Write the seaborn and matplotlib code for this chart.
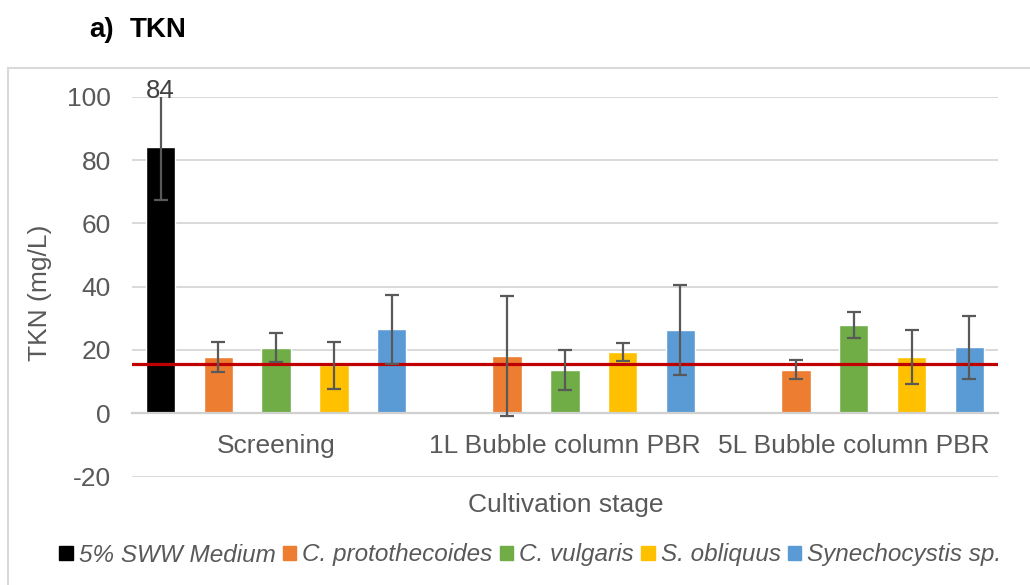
import matplotlib
matplotlib.use("Agg")
import matplotlib.pyplot as plt
import seaborn as sns
import pandas as pd
from matplotlib.patches import Rectangle

# Cultivation stages and strains
stages = ["Screening", "1L Bubble column PBR", "5L Bubble column PBR"]
strains = ["5% SWW Medium", "C. protothecoides", "C. vulgaris", "S. obliquus", "Synechocystis sp."]
colors = ["#000000", "#ED7D31", "#70AD47", "#FFC000", "#5B9BD5"]

# Mean TKN (mg/L) per stage; None = not measured
tkn_medium = [84.0, None, None]
tkn_protothecoides = [17.8, 18.0, 13.8]
tkn_vulgaris = [20.7, 13.7, 27.8]
tkn_obliquus = [15.1, 19.4, 17.8]
tkn_synechocystis = [26.5, 26.3, 20.8]

# Standard deviations
sd_medium = [16.5, None, None]
sd_protothecoides = [4.7, 19.0, 2.9]
sd_vulgaris = [4.6, 6.3, 4.1]
sd_obliquus = [7.3, 2.8, 8.4]
sd_synechocystis = [10.9, 14.1, 10.0]

# Discharge limit line
tkn_limit = 15.5

means = [tkn_medium, tkn_protothecoides, tkn_vulgaris, tkn_obliquus, tkn_synechocystis]
sds = [sd_medium, sd_protothecoides, sd_vulgaris, sd_obliquus, sd_synechocystis]

rows = []
for strain, mvals, svals in zip(strains, means, sds):
    for stage, m, s in zip(stages, mvals, svals):
        if m is not None:
            rows.append({"stage": stage, "strain": strain, "tkn": m, "sd": s})
df = pd.DataFrame(rows)

sns.set_theme(style="white")
plt.rcParams["font.family"] = ["Liberation Sans", "DejaVu Sans"]
plt.rcParams["axes.unicode_minus"] = False

grey = "#595959"
fig = plt.figure(figsize=(10.30, 5.85), dpi=100)
ax = fig.add_axes([0.1279, 0.1853, 0.8412, 0.6494])

sns.barplot(data=df, x="stage", y="tkn", hue="strain", order=stages,
            hue_order=strains, palette=colors, errorbar=None, width=1.0,
            gap=0.49, saturation=1, legend=False, ax=ax, zorder=2)

# Error bars placed on the drawn bars
for strain, container in zip(strains, ax.containers):
    sub = df[df["strain"] == strain].set_index("stage")
    for patch in container.patches:
        cx = patch.get_x() + patch.get_width() / 2
        stage = stages[int(round(cx))]
        h = sub.loc[stage, "tkn"]
        e = sub.loc[stage, "sd"]
        ax.errorbar(cx, h, yerr=e, fmt="none", ecolor=grey, elinewidth=1.6,
                    capsize=5, capthick=1.6, zorder=5)
        if strain == strains[0]:
            ax.text(cx, 101.8, f"{h:.0f}", ha="center", va="center",
                    fontsize=18.5, color="#404040", clip_on=False, zorder=6)

ax.axhline(tkn_limit, color="#C00000", lw=2.3, zorder=4)

ax.set_xlim(-0.5, 2.5)
ax.set_ylim(-20, 100)
ax.set_yticks(range(-20, 101, 20))
ax.yaxis.grid(True, color="#D9D9D9", lw=1.4)
ax.set_axisbelow(True)
for side in ["left", "right", "top"]:
    ax.spines[side].set_visible(False)
ax.spines["bottom"].set_position(("data", 0))
ax.spines["bottom"].set_color("#D0D0D0")
ax.spines["bottom"].set_linewidth(1.6)
ax.tick_params(axis="y", length=0, labelsize=19, colors=grey, pad=15)
ax.tick_params(axis="x", length=0, labelsize=19, colors=grey, pad=15)
ax.set_xlabel("")
ax.set_ylabel("")
fig.text(40 / 1030, 1 - 293 / 585, "TKN (mg/L)", rotation=90, ha="center",
         va="center", fontsize=19, color=grey)
fig.text(566 / 1030, 1 - 505 / 585, "Cultivation stage", ha="center",
         va="center", fontsize=19, color=grey)

# Legend
handles = [Rectangle((0, 0), 1, 1, color=c) for c in colors]
fig.legend(handles, strains, loc="center", bbox_to_anchor=(0.515, 1 - 555 / 585),
           ncol=5, frameon=False, handlelength=0.55, handleheight=0.55,
           handletextpad=0.25, columnspacing=0.3,
           prop={"style": "italic", "size": 17.5})
for t in fig.legends[0].get_texts():
    t.set_color(grey)

# Chart border and panel title
fig.add_artist(Rectangle((8 / 1030, -0.05), 1.2, 1 - 68 / 585 + 0.05,
                         transform=fig.transFigure, fill=False,
                         edgecolor="#D9D9D9", lw=1.5))
fig.text(89 / 1030, 1 - 30 / 585, "a)", fontsize=20, fontweight="bold",
         ha="left", va="center", color="black")
fig.text(130 / 1030, 1 - 30 / 585, "TKN", fontsize=20, fontweight="bold",
         ha="left", va="center", color="black")

fig.savefig("out.png", dpi=100, facecolor="white")
